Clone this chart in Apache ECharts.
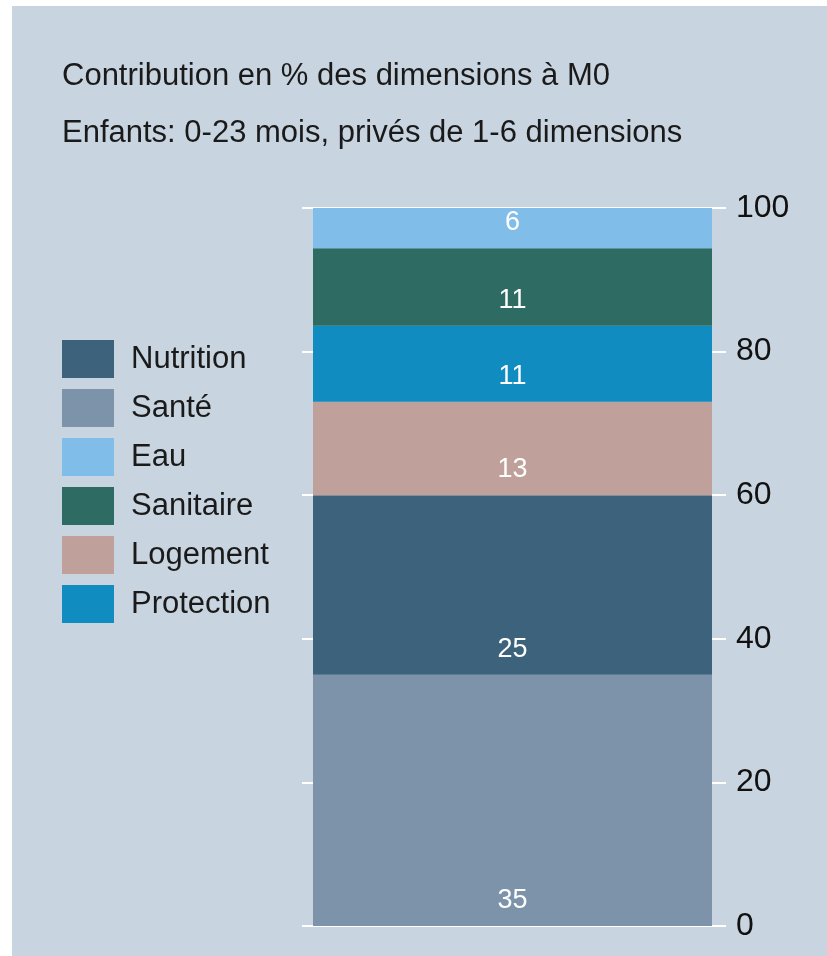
<!DOCTYPE html>
<html>
<head>
<meta charset="utf-8">
<script src="https://cdn.jsdelivr.net/npm/echarts@6/dist/echarts.min.js"></script>
<style>
  html, body { margin: 0; padding: 0; background: #ffffff; }
  #chart { position: absolute; left: 12px; top: 6px; width: 815px; height: 950px; }
</style>
</head>
<body>
<div id="chart"></div>
<script>
// data
const categories = ["M0"];
const sante = [35.0];
const nutrition = [25.0];
const logement = [13.0];
const protection = [10.6];
const sanitaire = [10.8];
const eau = [5.6];
const legendOrder = ["Nutrition", "Santé", "Eau", "Sanitaire", "Logement", "Protection"];

const font = "'Liberation Sans', Arial, sans-serif";

const colors = {
  "Nutrition": "#3d637c",
  "Santé": "#7d93aa",
  "Eau": "#80bde8",
  "Sanitaire": "#2e6b63",
  "Logement": "#bfa09b",
  "Protection": "#118cc0"
};

// bottom to top
const stackOrder = [
  ["Santé", sante],
  ["Nutrition", nutrition],
  ["Logement", logement],
  ["Protection", protection],
  ["Sanitaire", sanitaire],
  ["Eau", eau]
];

const chart = echarts.init(document.getElementById("chart"));

const option = {
  backgroundColor: "#c8d4df",
  animation: false,
  title: [
    {
      text: "Contribution en % des dimensions à M0",
      left: 50, top: 55, padding: 0,
      textStyle: { fontFamily: font, fontSize: 31, fontWeight: "normal", color: "#1a1a1a" }
    },
    {
      text: "Enfants: 0-23 mois, privés de 1-6 dimensions",
      left: 50, top: 112, padding: 0,
      textStyle: { fontFamily: font, fontSize: 31, fontWeight: "normal", color: "#1a1a1a" }
    }
  ],
  legend: {
    orient: "vertical",
    left: 50, top: 334, padding: 0,
    itemWidth: 52, itemHeight: 38, itemGap: 11,
    icon: "rect",
    data: legendOrder,
    textStyle: { fontFamily: font, fontSize: 31, color: "#1a1a1a", padding: [5, 0, 0, 12] }
  },
  grid: { left: 301, right: 115, top: 202, bottom: 30 },
  xAxis: {
    type: "category",
    data: categories,
    axisLine: { show: false },
    axisTick: { show: false },
    axisLabel: { show: false }
  },
  yAxis: [
    {
      type: "value", position: "right",
      min: 0, max: 100, interval: 20,
      axisLine: { show: false },
      axisTick: { show: true, length: 14, lineStyle: { color: "#ffffff", width: 2 } },
      axisLabel: { margin: 24, fontFamily: font, fontSize: 32, color: "#111111", padding: [7, 0, 0, 0] },
      splitLine: { show: true, lineStyle: { color: "#ffffff", width: 2 } }
    },
    {
      type: "value", position: "left",
      min: 0, max: 100, interval: 20,
      axisLine: { show: false },
      axisTick: { show: true, length: 11, lineStyle: { color: "#ffffff", width: 2 } },
      axisLabel: { show: false },
      splitLine: { show: false }
    }
  ],
  series: stackOrder.map(([name, vals]) => ({
    name: name,
    type: "bar",
    stack: "total",
    data: vals,
    barWidth: "100%",
    itemStyle: { color: colors[name] },
    label: {
      show: true,
      position: "insideBottom",
      distance: 12,
      color: "#ffffff",
      fontFamily: font,
      fontSize: 27,
      formatter: (p) => Math.round(p.value)
    }
  }))
};

chart.setOption(option);
</script>
</body>
</html>
